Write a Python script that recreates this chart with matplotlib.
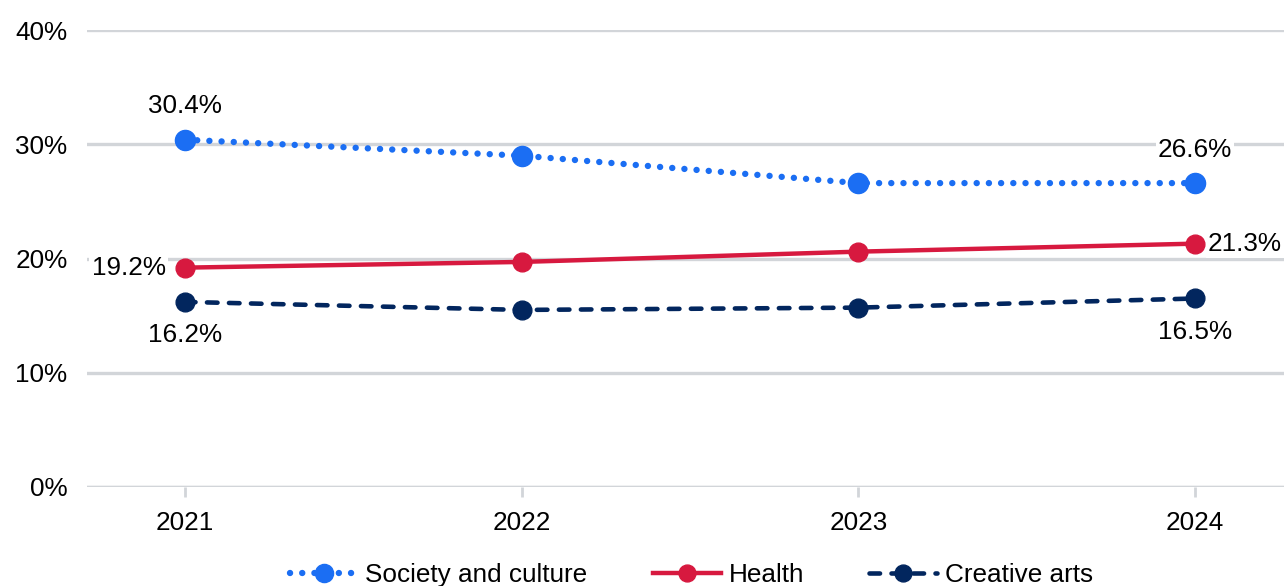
import matplotlib.pyplot as plt
from matplotlib.ticker import FuncFormatter

plt.rcParams['font.family'] = ['Liberation Sans', 'DejaVu Sans']

# share of enrolments by field, 2021-2024 (%)
years = ['2021', '2022', '2023', '2024']
society = [30.4, 29.0, 26.6, 26.6]
health = [19.2, 19.7, 20.6, 21.3]
creative = [16.2, 15.5, 15.7, 16.5]

c_soc = '#1b6ef3'
c_hea = '#d7193f'
c_cre = '#02265e'
grid_c = '#d2d5d9'
fs = 18.8

fig = plt.figure(figsize=(12.84, 5.86), dpi=100)
ax = fig.add_axes([87 / 1284, 1 - 487 / 586, 1 - 87 / 1284, (487 - 30) / 586])

x = range(len(years))
l1, = ax.plot(x, society, color=c_soc, lw=4.6, dashes=(0.01, 1.9), dash_capstyle='round',
              marker='o', ms=14.5, zorder=4, label='Society and culture')
l2, = ax.plot(x, health, color=c_hea, lw=3.2, marker='o', ms=13.5, zorder=4,
              label='Health')
l3, = ax.plot(x, creative, color=c_cre, lw=3.3, dashes=(2.3, 2.5), dash_capstyle='round',
              marker='o', ms=13.5, zorder=4, label='Creative arts')

ax.set_xlim(-0.291, 3.264)
ax.set_ylim(0, 40)
ax.set_yticks([0, 10, 20, 30, 40])
ax.yaxis.set_major_formatter(FuncFormatter(lambda v, p: '{:.0f}%'.format(v)))
ax.set_xticks(list(x))
ax.set_xticklabels(years)
ax.grid(axis='y', color=grid_c, lw=2.4, zorder=0)
for s in ax.spines.values():
    s.set_visible(False)
ax.tick_params(axis='y', length=0, pad=14, labelsize=fs)
ax.tick_params(axis='x', length=7, width=2, color=grid_c, pad=10, labelsize=fs)
ax.axhline(0, color=grid_c, lw=2.4, zorder=1)

box = dict(facecolor='white', edgecolor='none', pad=1.5)

def lab(i, v, dx, dy, ha='center', va='center'):
    ax.annotate('{:.1f}%'.format(v), (i, v), xytext=(dx, dy), textcoords='offset points',
                ha=ha, va=va, fontsize=fs, bbox=box, zorder=3)

lab(0, society[0], 0, 24)
lab(3, society[3], 0, 24)
lab(0, health[0], -14, 0, ha='right')
lab(3, health[3], 9, 0, ha='left')
lab(0, creative[0], 0, -24)
lab(3, creative[3], 0, -24)

ax.legend(handles=[l1, l2, l3], loc='upper center', bbox_to_anchor=(0.505, -0.115),
          ncol=3, frameon=False, fontsize=fs, handlelength=2.6, columnspacing=2.5,
          handletextpad=0.3, markerscale=0.9)

fig.savefig('out.png', dpi=100)
